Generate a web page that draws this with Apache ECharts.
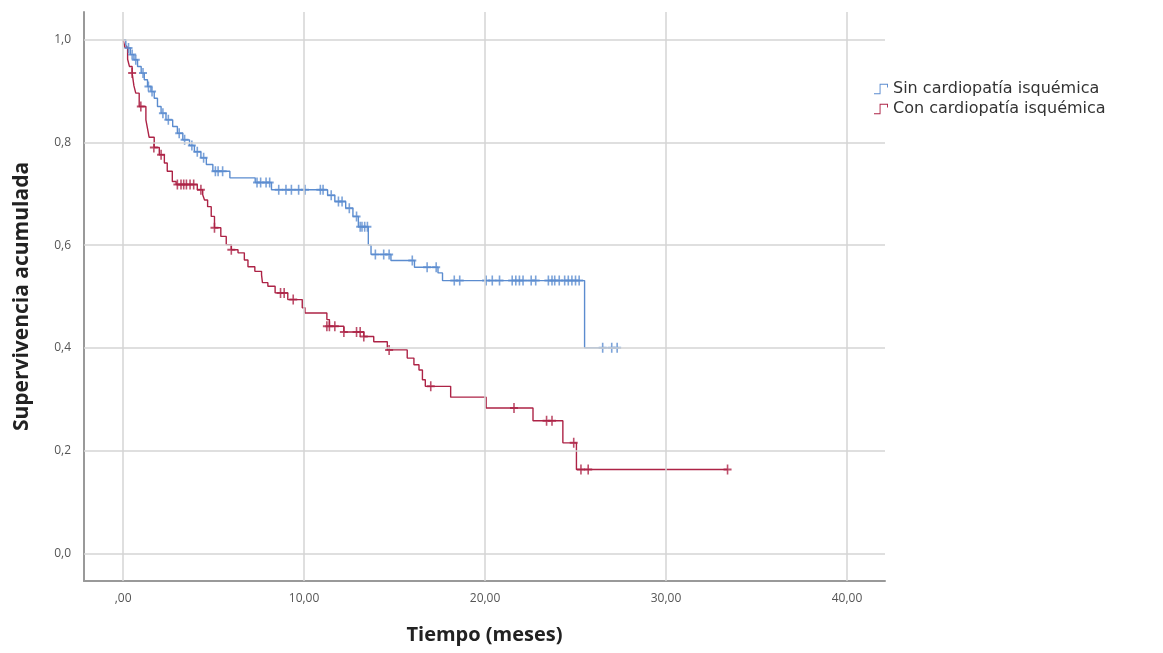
<!DOCTYPE html>
<html>
<head>
<meta charset="utf-8">
<script src="https://cdn.jsdelivr.net/npm/echarts@6/dist/echarts.min.js"></script>
<style>
  html, body { margin: 0; padding: 0; background: #fff; }
  #km { width: 1163px; height: 653px; }
</style>
</head>
<body>
<div id="km"></div>
<script>
// nombres de grupos
var grupos = ['Sin cardiopatía isquémica', 'Con cardiopatía isquémica'];

// escalones Kaplan-Meier [tiempo, supervivencia]
var sinPasos = [
  [0, 1.0], [0.15, 0.99], [0.25, 0.984], [0.4, 0.971], [0.6, 0.961], [0.8, 0.948],
  [1.0, 0.935], [1.17, 0.922], [1.35, 0.909], [1.54, 0.899], [1.72, 0.886], [1.9, 0.87],
  [2.1, 0.857], [2.37, 0.844], [2.74, 0.831], [3.0, 0.818], [3.3, 0.805], [3.67, 0.794],
  [3.94, 0.782], [4.3, 0.77], [4.6, 0.757], [4.96, 0.744], [5.9, 0.731], [7.3, 0.722],
  [8.2, 0.708], [11.3, 0.697], [11.7, 0.685], [12.3, 0.672], [12.7, 0.656], [13.0, 0.636],
  [13.55, 0.60], [13.7, 0.582], [14.8, 0.570], [16.1, 0.557], [17.4, 0.546], [17.65, 0.531],
  [25.5, 0.40], [27.4, 0.40]
];
var conPasos = [
  [0, 1.0], [0.1, 0.985], [0.25, 0.962], [0.35, 0.948], [0.5, 0.935], [0.6, 0.91],
  [0.7, 0.896], [0.89, 0.87], [1.26, 0.844], [1.35, 0.827], [1.44, 0.81], [1.72, 0.79],
  [2.0, 0.776], [2.28, 0.76], [2.44, 0.744], [2.72, 0.724], [2.93, 0.718], [4.1, 0.708],
  [4.4, 0.698], [4.5, 0.688], [4.67, 0.675], [4.87, 0.656], [5.05, 0.634], [5.4, 0.617],
  [5.7, 0.601], [5.98, 0.591], [6.35, 0.585], [6.7, 0.571], [6.9, 0.558], [7.28, 0.549],
  [7.65, 0.542], [7.7, 0.527], [8.0, 0.52], [8.4, 0.507], [9.1, 0.494], [9.9, 0.478],
  [10.05, 0.468], [11.26, 0.455], [11.4, 0.442], [12.2, 0.431], [13.3, 0.422], [13.85, 0.412],
  [14.6, 0.396], [15.7, 0.380], [16.07, 0.367], [16.35, 0.357], [16.54, 0.338], [16.7, 0.325],
  [18.1, 0.304], [20.06, 0.283], [22.65, 0.258], [24.3, 0.215], [25.05, 0.163], [33.4, 0.163]
];

// casos censurados [tiempo, supervivencia]
var sinCensura = [
  [0.3, 0.984], [0.5, 0.971], [0.7, 0.961], [1.1, 0.935], [1.4, 0.909], [1.6, 0.899],
  [2.2, 0.857], [2.5, 0.844], [3.1, 0.818], [3.4, 0.805], [3.8, 0.794], [4.1, 0.782],
  [4.45, 0.77], [5.1, 0.744], [5.25, 0.744], [5.5, 0.744], [7.4, 0.722], [7.6, 0.722],
  [7.9, 0.722], [8.1, 0.722], [8.6, 0.708], [9.0, 0.708], [9.3, 0.708], [9.7, 0.708],
  [10.05, 0.708], [10.9, 0.708], [11.05, 0.708], [11.5, 0.697], [11.9, 0.685], [12.1, 0.685],
  [12.5, 0.672], [12.9, 0.656], [13.1, 0.636], [13.2, 0.636], [13.35, 0.636], [13.5, 0.636],
  [13.94, 0.582], [14.4, 0.582], [14.7, 0.582], [15.98, 0.570], [16.8, 0.557], [17.3, 0.557],
  [18.3, 0.531], [18.6, 0.531], [20.06, 0.531], [20.4, 0.531], [20.8, 0.531], [21.5, 0.531],
  [21.7, 0.531], [21.9, 0.531], [22.1, 0.531], [22.55, 0.531], [22.8, 0.531], [23.5, 0.531],
  [23.7, 0.531], [23.85, 0.531], [24.1, 0.531], [24.4, 0.531], [24.6, 0.531], [24.8, 0.531],
  [25.0, 0.531], [25.2, 0.531], [26.5, 0.40], [27.0, 0.40], [27.3, 0.40]
];
var conCensura = [
  [0.5, 0.935], [0.98, 0.87], [1.7, 0.79], [2.1, 0.776], [3.0, 0.718], [3.2, 0.718],
  [3.35, 0.718], [3.5, 0.718], [3.7, 0.718], [3.9, 0.718], [4.3, 0.708], [5.05, 0.634],
  [5.98, 0.591], [8.7, 0.507], [8.9, 0.507], [9.4, 0.494], [11.26, 0.442], [11.4, 0.442],
  [11.7, 0.442], [12.2, 0.431], [12.9, 0.431], [13.1, 0.431], [13.3, 0.422], [14.7, 0.396],
  [17.0, 0.325], [21.6, 0.283], [23.4, 0.258], [23.7, 0.258], [24.9, 0.215], [25.3, 0.163],
  [25.7, 0.163], [33.4, 0.163]
];

// ticks
var xTicks = [0, 10, 20, 30, 40];
var yTicks = [0, 0.2, 0.4, 0.6, 0.8, 1.0];

var colorSin = '#5b8ccf';
var colorCon = '#ad2346';
var cruz = 'path://M4,0H6V4H10V6H6V10H4V6H0V4H4Z';
var escalon = 'path://M0,10H6V0H15V4H14V1H7V11H0Z';

var grid = [];
xTicks.forEach(function (v) { grid.push({ xAxis: v }); });
yTicks.forEach(function (v) { grid.push({ yAxis: v }); });

var km = echarts.init(document.getElementById('km'));
var opcion = {
    animation: false,
    backgroundColor: '#fff',
    textStyle: { fontFamily: 'Open Sans' },
    grid: { left: 84, right: 278, top: 12, bottom: 72 },
    legend: {
        orient: 'vertical',
        left: 869,
        top: 76,
        itemWidth: 14,
        itemHeight: 11,
        itemGap: 4,
        textStyle: { fontSize: 16, color: '#333', fontFamily: 'DejaVu Sans' },
        data: [
            { name: grupos[0], icon: escalon },
            { name: grupos[1], icon: escalon }
        ]
    },
    xAxis: {
        type: 'value',
        min: -2.16,
        max: 42.1,
        name: 'Tiempo (meses)',
        nameLocation: 'middle',
        nameGap: 44,
        nameTextStyle: { fontSize: 20, fontWeight: 'bold', color: '#222' },
        axisLine: { show: true, onZero: false, lineStyle: { color: '#999', width: 2 } },
        axisTick: { show: false },
        splitLine: { show: false },
        axisLabel: {
            customValues: xTicks,
            margin: 12,
            fontSize: 12,
            color: '#555',
            formatter: function (v) { return v === 0 ? ',00' : v.toFixed(2).replace('.', ','); }
        }
    },
    yAxis: {
        type: 'value',
        min: -0.054,
        max: 1.054,
        name: 'Supervivencia acumulada',
        nameLocation: 'middle',
        nameGap: 51,
        nameTextStyle: { fontSize: 21, fontWeight: 'bold', color: '#222' },
        axisLine: { show: true, onZero: false, lineStyle: { color: '#999', width: 2 } },
        axisTick: { show: false },
        splitLine: { show: false },
        axisLabel: {
            customValues: yTicks,
            margin: 13,
            fontSize: 12,
            color: '#555',
            formatter: function (v) { return v.toFixed(1).replace('.', ','); }
        }
    },
    series: [
        {
            // rejilla
            type: 'line',
            data: [],
            z: 1,
            silent: true,
            markLine: {
                silent: true,
                symbol: 'none',
                label: { show: false },
                lineStyle: { color: '#d4d4d4', width: 1.5, type: 'solid' },
                data: grid
            }
        },
        {
            name: grupos[0],
            type: 'line',
            step: 'end',
            data: sinPasos,
            showSymbol: false,
            color: colorSin,
            lineStyle: { color: colorSin, width: 1.4 },
            z: 3
        },
        {
            name: grupos[1],
            type: 'line',
            step: 'end',
            data: conPasos,
            showSymbol: false,
            color: colorCon,
            lineStyle: { color: colorCon, width: 1.4 },
            z: 3
        },
        {
            name: grupos[0],
            type: 'scatter',
            data: sinCensura,
            symbol: cruz,
            symbolSize: [8, 10],
            itemStyle: { color: colorSin },
            z: 4
        },
        {
            name: grupos[1],
            type: 'scatter',
            data: conCensura,
            symbol: cruz,
            symbolSize: [8, 10],
            itemStyle: { color: colorCon },
            z: 4
        }
    ]
};
km.setOption(opcion);
</script>
</body>
</html>
